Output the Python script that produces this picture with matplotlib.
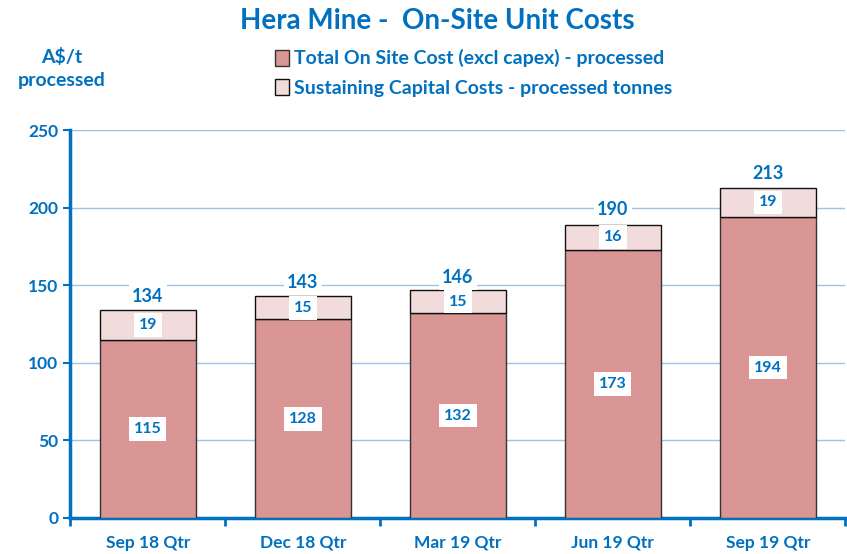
import matplotlib.pyplot as plt
import numpy as np

plt.rcParams['font.family'] = ['Lato', 'DejaVu Sans']
plt.rcParams['font.weight'] = 'bold'

quarters = ['Sep 18 Qtr', 'Dec 18 Qtr', 'Mar 19 Qtr', 'Jun 19 Qtr', 'Sep 19 Qtr']
on_site = [115, 128, 132, 173, 194]
sustaining = [19, 15, 15, 16, 19]
totals = [134, 143, 146, 190, 213]

blue = '#0070C0'
red = '#D99694'
pink = '#F2DCDB'

fig = plt.figure(figsize=(8.47, 5.54), dpi=100)
ax = fig.add_axes([0.083, 0.065, 0.915, 0.70])

x = np.arange(len(quarters))
b1 = ax.bar(x, on_site, width=0.62, color=red, edgecolor='#333333', linewidth=1,
            label='Total On Site Cost (excl capex) - processed', zorder=3)
b2 = ax.bar(x, sustaining, width=0.62, bottom=on_site, color=pink, edgecolor='#111111',
            linewidth=1, label='Sustaining Capital Costs - processed tonnes', zorder=3)

# labels inside the bars, white boxes like the original
box = dict(boxstyle='square,pad=0.3', facecolor='white', edgecolor='none')
for i in range(len(quarters)):
    ax.text(x[i], on_site[i] / 2, str(on_site[i]), ha='center', va='center',
            color=blue, fontsize=11.5, fontweight='bold', bbox=box, zorder=4)
    ax.text(x[i], on_site[i] + sustaining[i] / 2, str(sustaining[i]), ha='center', va='center',
            color=blue, fontsize=11.5, fontweight='bold', bbox=box, zorder=4)
    ax.annotate(str(totals[i]), (x[i], totals[i]), xytext=(0, 10), textcoords='offset points',
                ha='center', va='center', color=blue, fontsize=13, fontweight='bold',
                bbox=dict(boxstyle='square,pad=0.2', facecolor='white', edgecolor='none'), zorder=4)

ax.set_xlim(-0.5, 4.5)
ax.set_ylim(0, 250)
ax.set_yticks(range(0, 251, 50))
ax.yaxis.grid(True, color='#9DC3E6', linewidth=1, zorder=0)
ax.set_axisbelow(True)

ax.set_xticks(x)
ax.set_xticklabels(quarters)
ax.tick_params(axis='x', length=0, pad=12, labelsize=12.5, labelcolor=blue)
ax.set_xticks(np.arange(-0.5, 5.0, 1), minor=True)
ax.tick_params(axis='x', which='minor', length=6, width=2, color=blue, direction='out')
ax.tick_params(axis='y', length=5, width=1.5, color=blue, labelsize=12.5, labelcolor=blue)

for s in ['top', 'right']:
    ax.spines[s].set_visible(False)
for s in ['left', 'bottom']:
    ax.spines[s].set_color(blue)
    ax.spines[s].set_linewidth(2.5)

fig.text(0.516, 0.962, 'Hera Mine -  On-Site Unit Costs', ha='center', va='center',
         color=blue, fontsize=20, fontweight='bold')
fig.text(0.073, 0.897, 'A$/t', ha='center', va='center', color=blue, fontsize=14, fontweight='bold')
fig.text(0.073, 0.855, 'processed', ha='center', va='center', color=blue, fontsize=14, fontweight='bold')

leg = fig.legend(handles=[b1, b2], loc='center left', bbox_to_anchor=(0.304, 0.868),
                 frameon=False, fontsize=14, labelcolor=blue, handlelength=0.7,
                 handleheight=0.9, handletextpad=0.3, labelspacing=0.6)

plt.savefig('out.png', dpi=100)
